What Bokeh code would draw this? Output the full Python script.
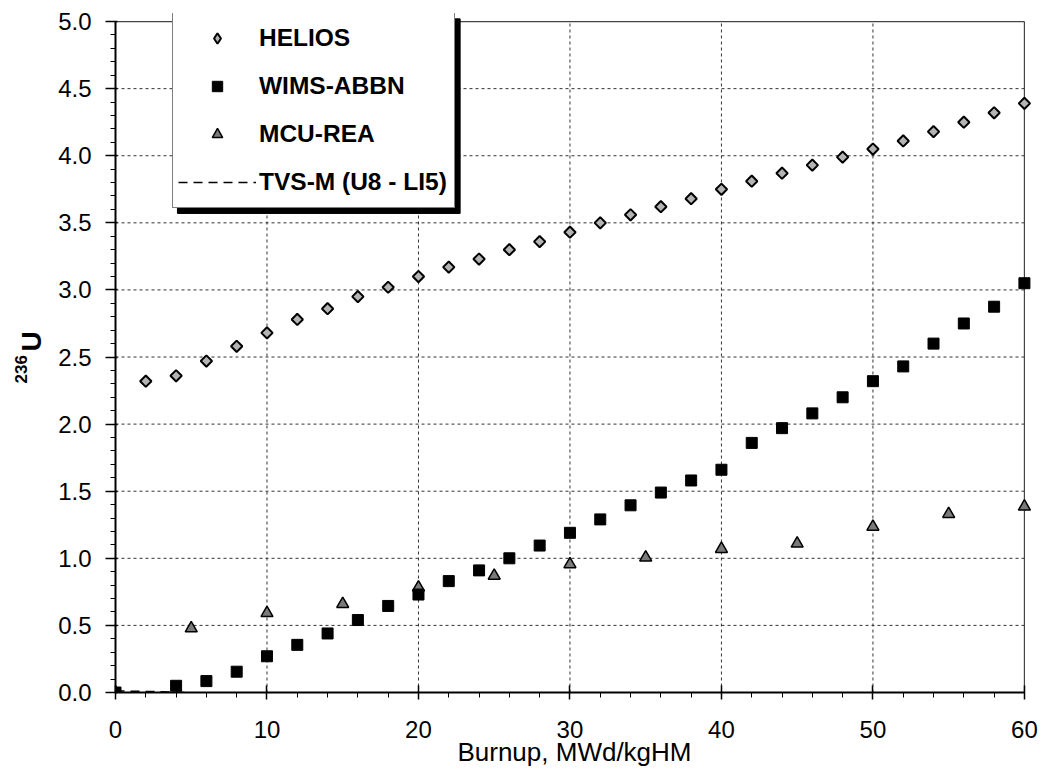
import math
from bokeh.plotting import figure
from bokeh.models import (Range1d, SingleIntervalTicker, NumeralTickFormatter, Legend, LegendItem,
                          Title, BoxAnnotation)
from bokeh.embed import file_html
from bokeh.resources import INLINE

# ---- data ----
helios_x = [2, 4, 6, 8, 10, 12, 14, 16, 18, 20, 22, 24, 26, 28, 30,
            32, 34, 36, 38, 40, 42, 44, 46, 48, 50, 52, 54, 56, 58, 60]
helios_y = [2.32, 2.36, 2.47, 2.58, 2.68, 2.78, 2.86, 2.95, 3.02, 3.10, 3.17, 3.23, 3.30, 3.36, 3.43,
            3.50, 3.56, 3.62, 3.68, 3.75, 3.81, 3.87, 3.93, 3.99, 4.05, 4.11, 4.18, 4.25, 4.32, 4.39]

wims_x = [0, 4, 6, 8, 10, 12, 14, 16, 18, 20, 22, 24, 26, 28, 30,
          32, 34, 36, 38, 40, 42, 44, 46, 48, 50, 52, 54, 56, 58, 60]
wims_y = [0.0, 0.05, 0.085, 0.155, 0.27, 0.355, 0.44, 0.54, 0.645, 0.73, 0.83, 0.91, 1.00, 1.095, 1.19,
          1.29, 1.395, 1.49, 1.58, 1.66, 1.86, 1.97, 2.08, 2.20, 2.32, 2.43, 2.60, 2.75, 2.875, 3.05]

mcu_x = [0, 5, 10, 15, 20, 25, 30, 35, 40, 45, 50, 55, 60]
mcu_y = [0.0, 0.478, 0.592, 0.66, 0.783, 0.87, 0.956, 1.006, 1.07, 1.11, 1.235, 1.33, 1.385]

tvs_x = [0, 2, 4, 6, 8, 9]
tvs_y = [0.012, 0.008, 0.003, -0.01, -0.022, -0.027]

x_grid = [10, 20, 30, 40, 50]
y_grid = [0.5, 1.0, 1.5, 2.0, 2.5, 3.0, 3.5, 4.0, 4.5]
X_MIN, X_MAX = 0, 60
Y_MIN, Y_MAX = 0.0, 5.0

FONT = "Liberation Sans"

p = figure(width=1042, height=772,
           x_range=Range1d(0, 60.6), y_range=Range1d(0, 5.06),
           output_backend="svg", toolbar_location=None,
           min_border_left=115, min_border_right=9, min_border_top=13, min_border_bottom=80)
p.xgrid.visible = False
p.ygrid.visible = False
p.outline_line_color = None
p.background_fill_color = "white"
p.border_fill_color = "white"

# axes
xa = p.xaxis[0]
ya = p.yaxis[0]
xa.ticker = SingleIntervalTicker(interval=10, num_minor_ticks=5)
ya.ticker = SingleIntervalTicker(interval=0.5, num_minor_ticks=5)
xa.bounds = (X_MIN, X_MAX)
ya.bounds = (Y_MIN, Y_MAX)
ya.formatter = NumeralTickFormatter(format="0.0")
for ax in (xa, ya):
    ax.axis_line_width = 2
    ax.axis_line_color = "black"
    ax.major_tick_line_color = "black"
    ax.minor_tick_line_color = "black"
    ax.major_tick_line_width = 1.5
    ax.minor_tick_line_width = 1
    ax.minor_tick_in = 0
    ax.minor_tick_out = 5
    ax.major_label_text_font = FONT
    ax.major_label_text_font_size = "24px"
    ax.major_label_text_color = "black"
    ax.axis_label_text_font = FONT
    ax.axis_label_text_color = "black"
xa.major_tick_in = 7
xa.major_tick_out = 7
xa.major_label_standoff = 21
xa.axis_label = "Burnup, MWd/kgHM"
xa.axis_label_text_font_style = "normal"
xa.axis_label_text_font_size = "26px"
xa.axis_label_standoff = -4
ya.major_tick_in = 2
ya.major_tick_out = 10
ya.major_label_standoff = 14

# y-axis title: element symbol next to the axis, superscript mass number outside it
p.add_layout(Title(text="U", align="left", offset=341, vertical_align="bottom", standoff=18,
                   text_font=FONT, text_font_style="bold", text_font_size="28px",
                   text_color="black"), "left")
p.add_layout(Title(text="236", align="left", offset=309, vertical_align="bottom", standoff=-44,
                   text_font=FONT, text_font_style="bold", text_font_size="17px",
                   text_color="black"), "left")

# grid lines and frame border
p.segment(x0=x_grid, y0=[Y_MIN] * len(x_grid), x1=x_grid, y1=[Y_MAX] * len(x_grid),
          line_color="#333333", line_width=1, line_dash="3 3")
p.segment(x0=[X_MIN] * len(y_grid), y0=y_grid, x1=[X_MAX] * len(y_grid), y1=y_grid,
          line_color="#333333", line_width=1, line_dash="3 3")
p.segment(x0=[X_MIN, X_MAX], y0=[Y_MAX, Y_MIN], x1=[X_MAX, X_MAX], y1=[Y_MAX, Y_MAX],
          line_color="#444444", line_width=1.2)

# series
r_tvs = p.line(tvs_x, tvs_y, line_color="black", line_width=1.5, line_dash="9 6")
r_mcu = p.scatter(mcu_x, mcu_y, marker="triangle", size=12, fill_color="#7a7a7a",
                  line_color="black", line_width=1.5)
r_wims = p.scatter(wims_x, wims_y, marker="square", size=11, fill_color="black", line_color="black")
r_hel = p.scatter(helios_x, helios_y, marker="square", angle=math.pi / 4, size=8,
                  fill_color="#b4b4b4", line_color="black", line_width=2)
# legend-only glyph for the diamond symbol (no visible point)
r_hel_key = p.scatter(x=[math.nan], y=[math.nan], marker="diamond", size=12,
                      fill_color="#b4b4b4", line_color="black", line_width=2)

# legend drop shadow (black box offset behind the legend)
p.add_layout(BoxAnnotation(left=4.09, right=22.75, top=5.02, bottom=3.57,
                           fill_color="black", fill_alpha=1.0, line_color="black", line_alpha=1.0))

legend = Legend(items=[LegendItem(label="HELIOS", renderers=[r_hel_key]),
                       LegendItem(label="WIMS-ABBN", renderers=[r_wims]),
                       LegendItem(label="MCU-REA", renderers=[r_mcu]),
                       LegendItem(label="TVS-M (U8 - LI5)", renderers=[r_tvs])],
                location=(57, 484), background_fill_color="white", background_fill_alpha=1.0,
                border_line_color="black", border_line_width=1.5, margin=0,
                label_text_font=FONT, label_text_font_style="bold", label_text_font_size="24.5px",
                label_text_color="black", glyph_width=78, glyph_height=26, label_height=40,
                label_width=190, label_standoff=3, padding=5, spacing=8)
p.add_layout(legend)

open("out.html", "w").write(file_html(p, INLINE))
